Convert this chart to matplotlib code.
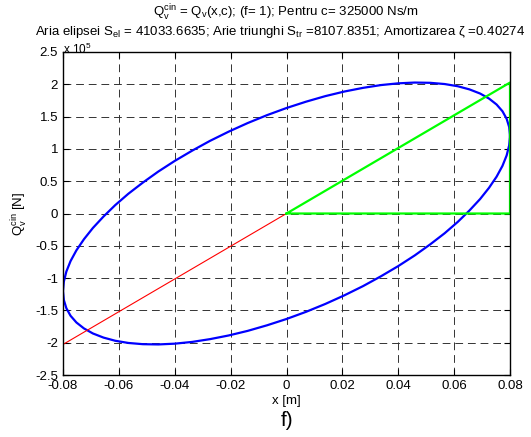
import numpy as np
import matplotlib.pyplot as plt

plt.rcParams['font.family'] = ['Liberation Sans', 'DejaVu Sans']
plt.rcParams['mathtext.fontset'] = 'custom'
plt.rcParams['mathtext.rm'] = 'Liberation Sans'
plt.rcParams['mathtext.it'] = 'Liberation Sans'

# ellipse Q_v(x) (Q in units of 1e5 N)
x_el = [0.0800, 0.0797, 0.0788, 0.0773, 0.0752, 0.0725, 0.0693, 0.0655, 0.0613, 0.0566,
        0.0514, 0.0459, 0.0400, 0.0338, 0.0274, 0.0207, 0.0139, 0.0070, 0.0000, -0.0070,
        -0.0139, -0.0207, -0.0274, -0.0338, -0.0400, -0.0459, -0.0514, -0.0566, -0.0613, -0.0655,
        -0.0693, -0.0725, -0.0752, -0.0773, -0.0788, -0.0797,
        -0.0800, -0.0797, -0.0788, -0.0773, -0.0752, -0.0725, -0.0693, -0.0655, -0.0613, -0.0566,
        -0.0514, -0.0459, -0.0400, -0.0338, -0.0274, -0.0207, -0.0139, -0.0070, 0.0000, 0.0070,
        0.0139, 0.0207, 0.0274, 0.0338, 0.0400, 0.0459, 0.0514, 0.0566, 0.0613, 0.0655,
        0.0693, 0.0725, 0.0752, 0.0773, 0.0788, 0.0797, 0.0800]
q_el = [1.201, 1.339, 1.466, 1.583, 1.687, 1.779, 1.857, 1.921, 1.970, 2.004,
        2.023, 2.027, 2.015, 1.988, 1.945, 1.888, 1.817, 1.731, 1.633, 1.522,
        1.400, 1.267, 1.124, 0.972, 0.814, 0.649, 0.479, 0.306, 0.130, -0.047,
        -0.224, -0.398, -0.570, -0.737, -0.899, -1.054,
        -1.201, -1.339, -1.466, -1.583, -1.687, -1.779, -1.857, -1.921, -1.970, -2.004,
        -2.023, -2.027, -2.015, -1.988, -1.945, -1.888, -1.817, -1.731, -1.633, -1.522,
        -1.400, -1.267, -1.124, -0.972, -0.814, -0.649, -0.479, -0.306, -0.130, 0.047,
        0.224, 0.398, 0.570, 0.737, 0.899, 1.054, 1.201]

# triangle and stiffness line
x_tri = [0.0, 0.08, 0.08, 0.0]
q_tri = [0.0, 2.027, 0.0, 0.0]
x_red = [-0.08, 0.0]
q_red = [-2.027, 0.0]

xticks = [-0.08, -0.06, -0.04, -0.02, 0, 0.02, 0.04, 0.06, 0.08]
xtick_labels = ['-0.08', '-0.06', '-0.04', '-0.02', '0', '0.02', '0.04', '0.06', '0.08']
yticks = [-2.5, -2, -1.5, -1, -0.5, 0, 0.5, 1, 1.5, 2, 2.5]
ytick_labels = ['-2.5', '-2', '-1.5', '-1', '-0.5', '0', '0.5', '1', '1.5', '2', '2.5']

fig = plt.figure(figsize=(5.31, 4.37), dpi=100)
ax = fig.add_axes([63/531, 1-375/437, (510-63)/531, (375-52)/437])

ax.plot(x_el, q_el, color='#0000ff', lw=1.6)
ax.plot(x_red, q_red, color='#ff0000', lw=0.8)
ax.plot(x_tri, q_tri, color='#00ff00', lw=1.6)

ax.set_xlim(-0.08, 0.08)
ax.set_ylim(-2.5, 2.5)
ax.set_xticks(xticks)
ax.set_xticklabels(xtick_labels)
ax.set_yticks(yticks)
ax.set_yticklabels(ytick_labels)
ax.tick_params(direction='in', top=True, right=True, labelsize=9.5, length=4, width=0.8)
ax.grid(True, color='#333333', linestyle=(0, (8, 5)), lw=0.7)
for s in ax.spines.values():
    s.set_linewidth(1.0)

ax.set_xlabel('x [m]', fontsize=9.5, labelpad=2)
ax.set_ylabel(r'Q$_\mathrm{v}^\mathrm{cin}$ [N]', fontsize=9.5, labelpad=4)

fig.text(286/531, 1-13/437, r'Q$_\mathrm{v}^\mathrm{cin}$ = Q$_\mathrm{v}$(x,c); (f= 1); Pentru c= 325000 Ns/m',
         ha='center', va='center', fontsize=9.5)
fig.text(63/531, 1-49/437, r'x 10$^\mathrm{5}$', ha='left', va='center', fontsize=8.5)
fig.text(280/531, 1-32/437,
         r'Aria elipsei S$_\mathrm{el}$ = 41033.6635; Arie triunghi S$_\mathrm{tr}$ =8107.8351; Amortizarea $\zeta$ =0.40274',
         ha='center', va='center', fontsize=9.5)
fig.text(287/531, 1-420/437, 'f)', ha='center', va='center', fontsize=15)

fig.savefig('out.png', dpi=100)
